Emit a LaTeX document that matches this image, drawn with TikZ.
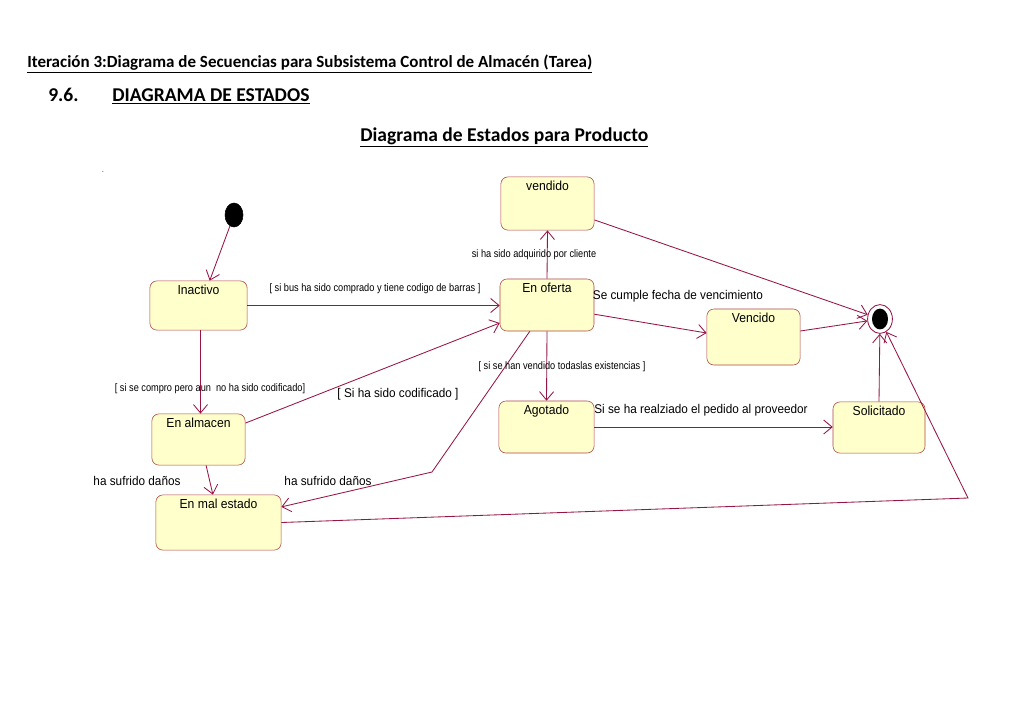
\documentclass[tikz,border=0pt]{standalone}
\usepackage{fontspec}
\setmainfont{Carlito}
\newfontfamily\arialn[FakeStretch=0.85]{Liberation Sans}
\newfontfamily\arialev[FakeStretch=0.93]{Liberation Sans}
\usepackage{tikz}
\usetikzlibrary{positioning,arrows.meta,shapes.geometric,calc}
\usepackage{xcolor}
\definecolor{trans}{RGB}{150,20,70}
\definecolor{borde}{RGB}{175,70,70}
\definecolor{relleno}{RGB}{255,255,204}

\tikzset{
  estado/.style={rectangle, rounded corners=5pt, draw=borde, fill=relleno,
    minimum width=2.35cm, minimum height=1.3cm, inner sep=0pt,
    label={[anchor=north, yshift=-2pt, inner sep=1pt, font=\arialev\fontsize{9.3}{10}\selectfont]north:#1}},
  flecha/.style={draw=trans, semithick, -{Straight Barb[length=6pt,width=10pt]}},
  guarda/.style={font=\arialn\fontsize{7.7}{9}\selectfont, inner sep=0pt},
  evento/.style={font=\arialev\fontsize{9}{10}\selectfont, inner sep=0pt},
  titulo/.style={anchor=base west, inner sep=0pt, font=\bfseries\fontsize{#1}{16}\selectfont},
}

\begin{document}
\begin{tikzpicture}[x=0.025cm, y=-0.025cm]
  \fill[white] (0,0) rectangle (1024,725);
  \useasboundingbox (0,0) rectangle (1024,725);

  % encabezados
  \node[titulo=12.1] (tit1) at (27,67)
    {\underline{Iteración 3:Diagrama de Secuencias para Subsistema Control de Almacén (Tarea)}};
  \node[titulo=13.9] (num) at (48,101) {9.6.};
  \node[titulo=13.9] (tit2) at (112,101) {\underline{DIAGRAMA DE ESTADOS}};
  \node[titulo=13.9] (tit3) at (360,141) {\underline{Diagrama de Estados para Producto}};
  \node[inner sep=0pt, font=\tiny] (punto) at (103,172) {.};

  % estados
  \node[ellipse, fill=black, draw=black, minimum width=0.45cm, minimum height=0.6cm, inner sep=0pt] (ini) at (234,215) {};
  \node[estado=Inactivo, minimum width=2.43cm, minimum height=1.23cm] (inactivo) at (198.5,305.5) {};
  \node[estado=vendido, minimum width=2.33cm, minimum height=1.33cm] (vendido) at (547.5,203.5) {};
  \node[estado=En oferta] (oferta) at (547,305) {};
  \node[estado=Vencido, minimum width=2.33cm, minimum height=1.4cm] (vencido) at (753.5,337) {};
  \node[estado=En almacen, minimum width=2.33cm, minimum height=1.28cm] (almacen) at (198.5,439.5) {};
  \node[estado=En mal estado, minimum width=3.13cm, minimum height=1.38cm] (malestado) at (218.5,522.5) {};
  \node[estado=Agotado, minimum width=2.38cm] (agotado) at (546.5,427) {};
  \node[estado=Solicitado, minimum width=2.3cm, minimum height=1.28cm] (solicitado) at (879,427.5) {};
  \node[ellipse, draw=trans, semithick, fill=white, minimum width=0.62cm, minimum height=0.72cm, inner sep=0pt] (fin) at (880,319) {};
  \fill[black] (fin) ellipse [x radius=0.2cm, y radius=0.26cm];

  \coordinate (quiebre1) at (432,472);
  \coordinate (quiebre2) at (968,498);

  % transiciones
  \draw[flecha] (ini) -- ([xshift=0.28cm]inactivo.north);
  \draw[flecha] (inactivo.east) -- (oferta.west |- inactivo.east);
  \draw[flecha] ([xshift=0.05cm]inactivo.south) -- ([xshift=0.05cm]almacen.north);
  \draw[flecha] ([yshift=0.41cm]almacen.east) -- ([yshift=-0.45cm]oferta.west);
  \draw[flecha] (oferta.north) -- (vendido.south);
  \draw[flecha] ([yshift=-0.23cm]oferta.east) -- ([yshift=0.1cm]vencido.west);
  \draw[flecha] ([yshift=-0.41cm]vendido.east) -- (fin);
  \draw[flecha] ([yshift=0.15cm]vencido.east) -- (fin);
  \draw[flecha] (oferta.south) -- (agotado.north);
  \draw[flecha] (agotado.east) -- (solicitado.west |- agotado.east);
  \draw[flecha] (solicitado.north) -- (fin);
  \draw[flecha] ([xshift=0.19cm]almacen.south) -- ([xshift=-0.14cm]malestado.north);
  \draw[flecha] ([xshift=-0.43cm]oferta.south) -- (quiebre1) -- ([yshift=0.39cm]malestado.east);
  \draw[flecha] (malestado.east) -- (quiebre2) -- (fin);

  % etiquetas
  \node[guarda] (g1) at (375,289) {[ si bus ha sido comprado y tiene codigo de barras ]};
  \node[guarda] (g2) at (210,389) {[ si se compro pero aun\ \ no ha sido codificado]};
  \node[guarda] (g3) at (534,255) {si ha sido adquirido por cliente};
  \node[guarda] (g4) at (562,367) {[ si se han vendido todaslas existencias ]};
  \node[evento] (e1) at (398,394) {[ Si ha sido codificado ]};
  \node[evento] (e2) at (678,296) {Se cumple fecha de vencimiento};
  \node[evento] (e3) at (701,410) {Si se ha realziado el pedido al proveedor};
  \node[evento] (e4) at (137,481) {ha sufrido daños};
  \node[evento] (e5) at (328,481) {ha sufrido daños};
\end{tikzpicture}
\end{document}
